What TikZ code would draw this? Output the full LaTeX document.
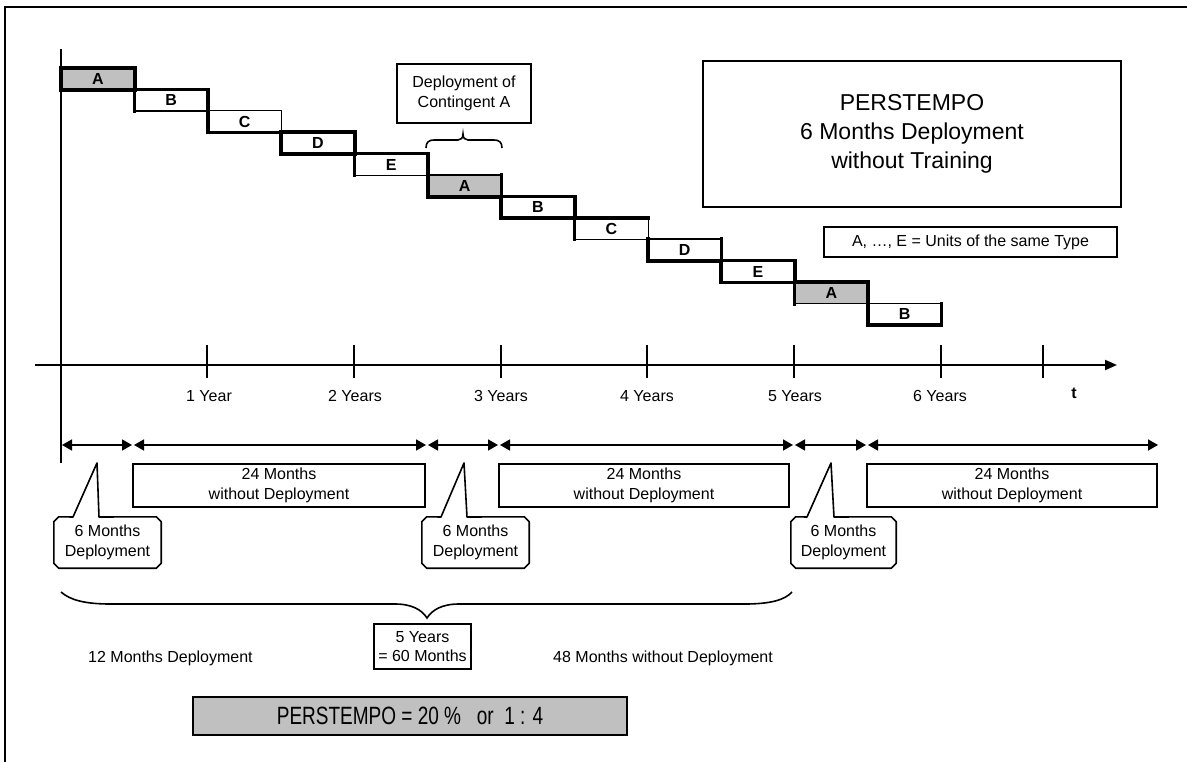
\documentclass[tikz,border=0pt]{standalone}
\usepackage{fontspec}
\usepackage{graphicx}
\setmainfont{Liberation Sans}
\usetikzlibrary{arrows.meta,calc}
\definecolor{unitgray}{HTML}{C0C0C0}
\begin{document}
\begin{tikzpicture}[x=1pt,y=-1pt,
  txt/.style={font=\fontsize{16}{19.5}\selectfont, align=center, inner sep=0pt},
  unit/.style={minimum width=73.35pt, minimum height=21.4pt, inner sep=0pt,
    anchor=north west, font=\fontsize{16}{19}\selectfont\bfseries},
  thinedge/.style={line width=1.4pt},
  thickedge/.style={line width=3.6pt, line cap=rect},
  framebox/.style={draw, line width=1.6pt, inner sep=0pt, align=center},
  axis/.style={line width=2pt},
  tickmark/.style={line width=2.6pt},
  span/.style={line width=1.6pt,
    {Triangle[length=10pt,width=11pt]}-{Triangle[length=10pt,width=11pt]}},
  brace/.style={line width=1.6pt},
  callline/.style={line width=1.6pt, line join=round},
]
\useasboundingbox (0,0) rectangle (1187,762);

% outer frame
\draw[line width=2pt] (5,762) -- (5,7) -- (1187,7);

% vertical axis
\coordinate (vtop) at (61,49);
\coordinate (vbot) at (61,463);
\draw[axis] (vtop) -- (vbot);

% units: index / label / fill / thick top, right, bottom, left
\def\units{0/A/unitgray/1/1/1/1, 1/B/white/1/1/0/1, 2/C/white/0/0/1/1,
  3/D/white/1/1/1/1, 4/E/white/1/1/0/1, 5/A/unitgray/0/1/1/1,
  6/B/white/1/1/1/1, 7/C/white/1/0/0/1, 8/D/white/0/1/1/1,
  9/E/white/1/1/1/1, 10/A/unitgray/1/1/0/1, 11/B/white/0/1/1/1}
\foreach \i/\lab/\col/\t/\r/\b/\l in \units {
  \node[unit, fill=\col] (u\i) at ({61+\i*73.35},{68+\i*21.4}) {\lab};
}
\foreach \i/\lab/\col/\t/\r/\b/\l in \units {
  \draw[thinedge] (u\i.north west) rectangle (u\i.south east);
}
\foreach \i/\lab/\col/\t/\r/\b/\l in \units {
  \ifnum\t=1 \draw[thickedge] (u\i.north west) -- (u\i.north east); \fi
  \ifnum\r=1 \draw[thickedge] (u\i.north east) -- (u\i.south east); \fi
  \ifnum\b=1 \draw[thickedge] (u\i.south west) -- (u\i.south east); \fi
  \ifnum\l=1 \draw[thickedge] (u\i.north west) -- (u\i.south west); \fi
}

% contingent A note and its brace
\node[framebox, txt, draw, line width=1.6pt, minimum width=134pt, minimum height=59pt]
  (contA) at (464,93.5) {Deployment of\\Contingent A};
\draw[brace] (426,148) .. controls (426,142) and (429,140) .. (434,140) -- (458,140)
  .. controls (461,140) and (463,138) .. (463,134)
  .. controls (463,138) and (465,140) .. (468,140) -- (494,140)
  .. controls (499,140) and (502,142) .. (502,148);

% title box and legend
\node[framebox, minimum width=418pt, minimum height=146pt,
  font=\fontsize{23}{29}\selectfont] (title) at (912,134)
  {PERSTEMPO\\6 Months Deployment\\without Training};
\node[framebox, txt, draw, line width=1.6pt, minimum width=293pt, minimum height=30pt]
  (legend) at (970.5,242) {A, …, E = Units of the same Type};

% time axis
\coordinate (axL) at (35,365);
\coordinate (axR) at (1117,365);
\draw[axis, -{Triangle[length=12pt,width=10pt]}] (axL) -- (axR);
\foreach \x in {207,354,501,647,794,941,1043} {
  \draw[tickmark] (\x,345) -- (\x,378);
}
\node[txt] (y1) at (209,396) {1 Year};
\node[txt] (y2) at (355,396) {2 Years};
\node[txt] (y3) at (501,396) {3 Years};
\node[txt] (y4) at (647,396) {4 Years};
\node[txt] (y5) at (795,396) {5 Years};
\node[txt] (y6) at (940,396) {6 Years};
\node[txt, font=\fontsize{16}{19}\selectfont\bfseries] (tlab) at (1074,393) {t};

% period spans
\coordinate (s0) at (62,445);
\coordinate (s1a) at (132,445);  \coordinate (s1b) at (134,445);
\coordinate (s2a) at (426,445);  \coordinate (s2b) at (428,445);
\coordinate (s3a) at (498,445);  \coordinate (s3b) at (500,445);
\coordinate (s4a) at (793,445);  \coordinate (s4b) at (795,445);
\coordinate (s5a) at (866,445);  \coordinate (s5b) at (868,445);
\coordinate (s6) at (1158,445);
\draw[span] (s0) -- (s1a);
\draw[span] (s1b) -- (s2a);
\draw[span] (s2b) -- (s3a);
\draw[span] (s3b) -- (s4a);
\draw[span] (s4b) -- (s5a);
\draw[span] (s5b) -- (s6);

% periods without deployment
\node[framebox, txt, draw, line width=1.6pt, minimum width=292pt, minimum height=43pt]
  (free1) at (279,485.5) {24 Months\\without Deployment};
\node[framebox, txt, draw, line width=1.6pt, minimum width=290pt, minimum height=43pt]
  (free2) at (644,485.5) {24 Months\\without Deployment};
\node[framebox, txt, draw, line width=1.6pt, minimum width=290pt, minimum height=43pt]
  (free3) at (1012,485.5) {24 Months\\without Deployment};

% deployment callouts
\node[txt, minimum width=107pt, minimum height=51pt] (dep1) at (107.5,542.5) {6 Months\\Deployment};
\node[txt, minimum width=107pt, minimum height=51pt] (dep2) at (475.5,542.5) {6 Months\\Deployment};
\node[txt, minimum width=105pt, minimum height=51pt] (dep3) at (843.5,542.5) {6 Months\\Deployment};
\coordinate (p1l) at (73,517);  \coordinate (p1t) at (97,463);  \coordinate (p1r) at (99,517);
\coordinate (p2l) at (441,517); \coordinate (p2t) at (464,463); \coordinate (p2r) at (467,517);
\coordinate (p3l) at (807,517); \coordinate (p3t) at (831,463); \coordinate (p3r) at (834,517);
\foreach \k in {1,2,3} {
  \draw[callline] ($(dep\k.north west)+(0,5)$) -- ($(dep\k.north west)+(5,0)$)
    -- (p\k l) -- (p\k t) -- (p\k r)
    -- ($(dep\k.north east)+(-5,0)$) -- ($(dep\k.north east)+(0,5)$)
    -- ($(dep\k.south east)+(0,-5)$) -- ($(dep\k.south east)+(-5,0)$)
    -- ($(dep\k.south west)+(5,0)$) -- ($(dep\k.south west)+(0,-5)$) -- cycle;
}

% five-year brace
\draw[brace] (61,592) .. controls (70,600) and (85,604) .. (110,604) -- (395,604)
  .. controls (412,604) and (422,610) .. (427,618)
  .. controls (432,610) and (442,604) .. (459,604) -- (745,604)
  .. controls (770,604) and (785,600) .. (792,592);
\node[framebox, txt, draw, line width=1.6pt, minimum width=97pt, minimum height=45pt]
  (fiveyears) at (422.5,646.5) {5 Years\\= 60 Months};
\node[txt, anchor=west] (twelve) at (88,658) {12 Months Deployment};
\node[txt, anchor=west] (fortyeight) at (553,658) {48 Months without Deployment};

% result bar
\node[draw, line width=2pt, fill=unitgray, minimum width=434pt, minimum height=38pt, inner sep=0pt]
  (result) at (410,716)
  {\scalebox{0.76}[1]{\fontsize{25}{30}\selectfont PERSTEMPO = 20 \%\ \ \ or\ \ 1 : 4}};
\end{tikzpicture}
\end{document}
